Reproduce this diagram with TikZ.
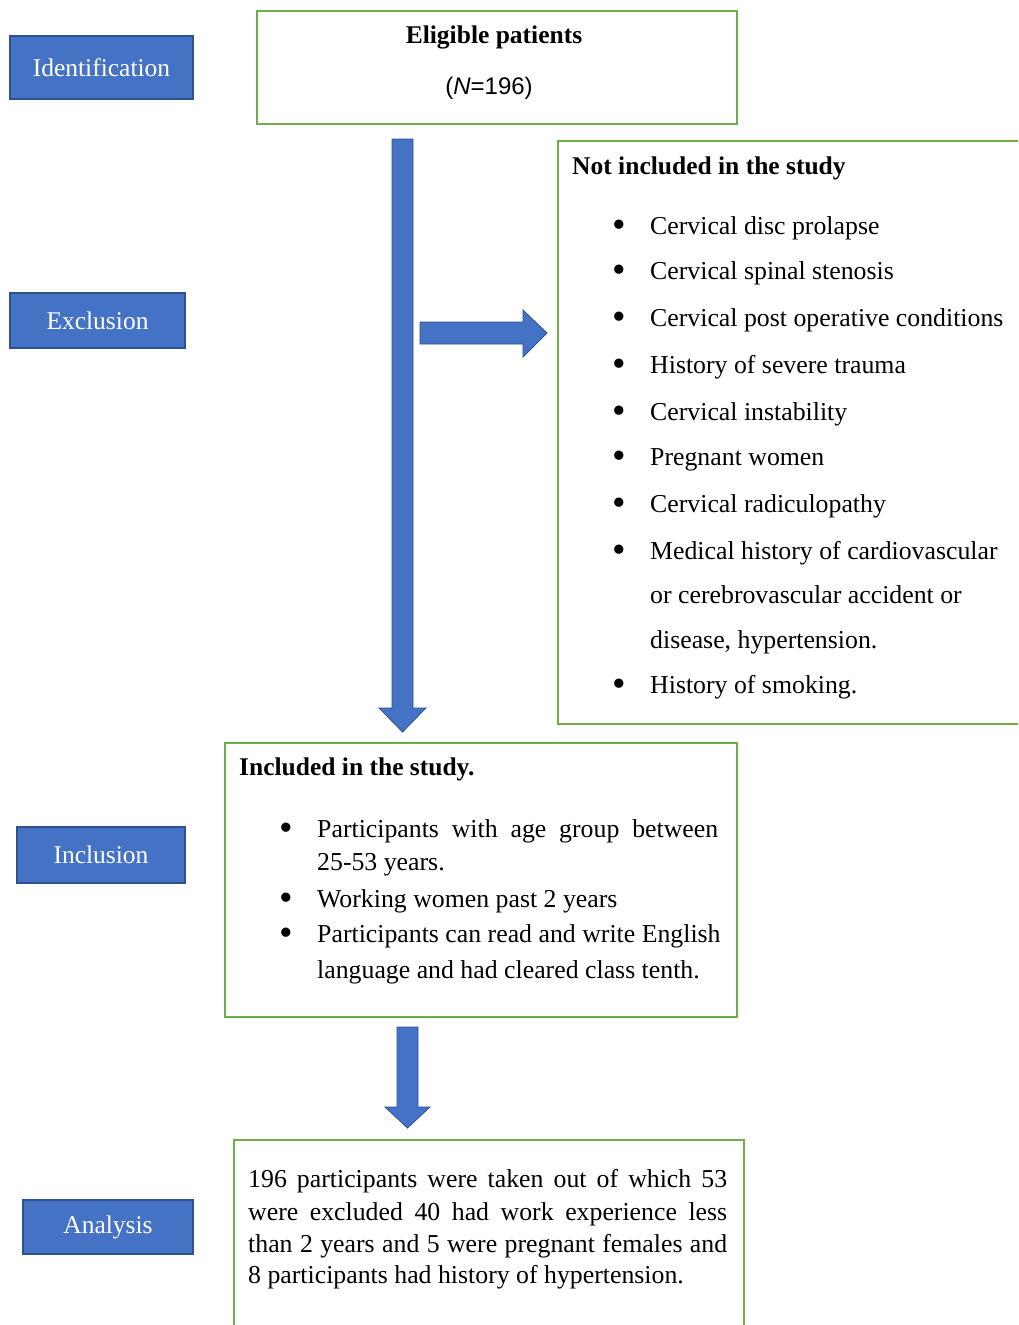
\documentclass[tikz,border=0pt]{standalone}
\usepackage{fontspec}
\setmainfont{Liberation Serif}
\newfontfamily\arialf{Liberation Sans}
\definecolor{lblue}{HTML}{4472C4}
\definecolor{dblue}{HTML}{2F528F}
\definecolor{gline}{HTML}{70AD47}
\newcommand{\bigbul}{\raisebox{-0.14em}{\scalebox{1.5}{\textbullet}}}
\newcommand{\bulA}{\makebox[38pt][l]{\bigbul}}
\begin{document}
\begin{tikzpicture}[x=1pt,y=-1pt,
  lbl/.style={draw=dblue, line width=1.5pt, fill=lblue, text=white, inner sep=0pt,
    font=\fontsize{25.5}{28}\selectfont},
  gbox/.style={draw=gline, line width=2pt, inner sep=0pt, anchor=north west},
  txt/.style={inner sep=0pt, anchor=base west, font=\fontsize{25.8}{28}\selectfont},
  btxt/.style={txt, font=\fontsize{25.5}{28}\selectfont\bfseries},
  barrow/.style={fill=lblue, draw=dblue, line width=0.8pt, line join=miter}]
\useasboundingbox (0,0) rectangle (1018,1325);
\clip (0,0) rectangle (1018,1325);
\fill[white] (0,0) rectangle (1018,1325);

% stage labels
\node[lbl, minimum width=183pt, minimum height=63pt] (idf) at (101.5,67.5) {Identification};
\node[lbl, minimum width=175pt, minimum height=55pt] (exc) at (97.5,320.5) {Exclusion};
\node[lbl, minimum width=168pt, minimum height=56pt] (inc) at (101,855) {Inclusion};
\node[lbl, minimum width=170pt, minimum height=54pt] (ana) at (108,1227) {Analysis};

% eligible box
\node[gbox, minimum width=480pt, minimum height=113pt] (elig) at (256,10) {};
\node[btxt, anchor=base] (eligt) at (494,43) {Eligible patients};
\node[txt, anchor=base, font=\fontsize{24}{28}\arialf] (eligN) at (489,94) {(\textit{N}=196)};

% not included box
\node[gbox, minimum width=480pt, minimum height=583pt] (notinc) at (557,140) {};
\node[btxt] (nt) at (572,174) {Not included in the study};
\node[txt] (n1) at (612,234) {\bulA Cervical disc prolapse};
\node[txt] (n2) at (612,279) {\bulA Cervical spinal stenosis};
\node[txt] (n3) at (612,326) {\bulA Cervical post operative conditions};
\node[txt] (n4) at (612,373) {\bulA History of severe trauma};
\node[txt] (n5) at (612,420) {\bulA Cervical instability};
\node[txt] (n6) at (612,465) {\bulA Pregnant women};
\node[txt] (n7) at (612,512) {\bulA Cervical radiculopathy};
\node[txt] (n8) at (612,559) {\bulA Medical history of cardiovascular};
\node[txt] (n9) at (650,603) {or cerebrovascular accident or};
\node[txt] (n10) at (650,648) {disease, hypertension.};
\node[txt] (n11) at (612,693) {\bulA History of smoking.};

% included box
\node[gbox, minimum width=512pt, minimum height=274pt] (incl) at (224,742) {};
\node[btxt] (it) at (239,775) {Included in the study.};
\node[txt] (i1) at (279,837) {\bulA\makebox[401pt][s]{Participants with age group between}};
\node[txt] (i2) at (317,870) {25-53 years.};
\node[txt] (i3) at (279,907) {\bulA Working women past 2 years};
\node[txt] (i4) at (279,942) {\bulA Participants can read and write English};
\node[txt] (i5) at (317,978) {language and had cleared class tenth.};

% analysis box
\node[gbox, minimum width=510pt, minimum height=220pt] (anal) at (233,1139) {};
\node[txt] (a1) at (248,1187) {\makebox[479pt][s]{196 participants were taken out of which 53}};
\node[txt] (a2) at (248,1220) {\makebox[479pt][s]{were excluded 40 had work experience less}};
\node[txt] (a3) at (248,1252) {\makebox[479pt][s]{than 2 years and 5 were pregnant females and}};
\node[txt] (a4) at (248,1283) {8 participants had history of hypertension.};

% block arrows
\draw[barrow] (392,139) -- (413,139) -- (413,708) -- (426,708) -- (402.5,732)
  -- (379,708) -- (392,708) -- cycle;
\draw[barrow] (420,322) -- (523,322) -- (523,310) -- (547,333) -- (523,357)
  -- (523,344) -- (420,344) -- cycle;
\draw[barrow] (397,1027) -- (418,1027) -- (418,1107) -- (430,1107) -- (407.5,1128)
  -- (385,1107) -- (397,1107) -- cycle;
\end{tikzpicture}
\end{document}
